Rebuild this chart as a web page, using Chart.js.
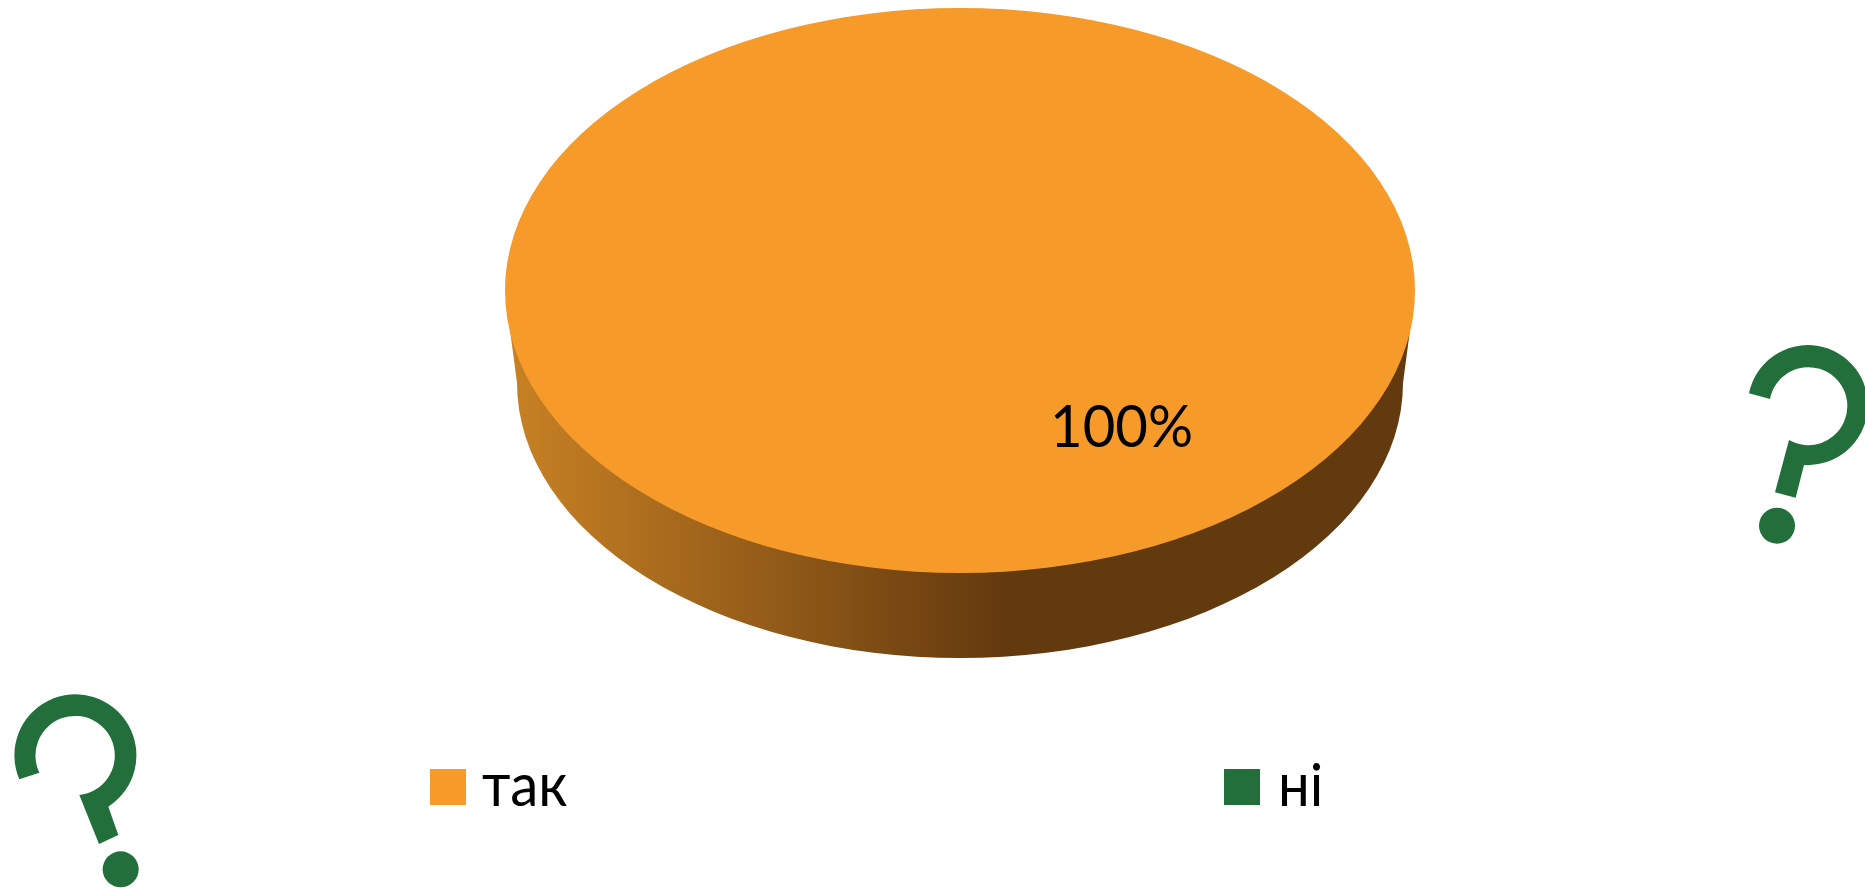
<!DOCTYPE html>
<html>
<head>
<meta charset="utf-8">
<title>так / ні</title>
<script src="https://cdn.jsdelivr.net/npm/chart.js@4/dist/chart.umd.min.js"></script>
<style>
  html, body { margin: 0; padding: 0; background: #fff; overflow: hidden; }
  #stage { position: relative; width: 1865px; height: 890px; }
  #myChart { position: absolute; left: 0; top: 0; }
  .mark { position: absolute; fill: #236f3c; }
</style>
</head>
<body>
<div id="stage">
  <canvas id="myChart" width="1865" height="890"></canvas>
  <!-- question marks -->
  <svg class="mark" style="left:0;top:680px" width="160" height="210" viewBox="0 0 480 630">
    <path d="M58,298 A183,183 0 1 1 325,380 L355,465 L297,492 L238,345 A119,119 0 1 0 118,278 Z"/>
    <circle cx="362" cy="568" r="54"/>
  </svg>
  <svg class="mark" style="left:1730px;top:330px" width="135" height="230" viewBox="0 0 405 690">
    <path d="M57,190 A180,180 0 1 1 222,405 L197,503 L135,487 L177,330 A117,117 0 1 0 120,207 Z"/>
    <circle cx="141" cy="587" r="54"/>
  </svg>
</div>
<script>
'use strict';

const categories = ['так', 'ні'];
const seriesValues = [100, 0];
const sliceColors = ['#f69a2a', '#236f3c'];

// top face and lower rim of the disc
const topFace = { x: 960, y: 290.5, rx: 455, ry: 282.5 };
const lowFace = { x: 960, y: 383, rx: 443, ry: 275 };

// side wall, sits behind the pie
const discPlugin = {
  id: 'disc',
  beforeDatasetsDraw(chart) {
    const ctx = chart.ctx;
    const wall = ctx.createLinearGradient(505, 0, 1005, 0);
    wall.addColorStop(0, '#c98224');
    wall.addColorStop(1, '#63390e');

    ctx.save();
    ctx.fillStyle = wall;
    ctx.beginPath();
    ctx.ellipse(lowFace.x, lowFace.y, lowFace.rx, lowFace.ry, 0, 0, Math.PI);
    ctx.lineTo(510, 330);
    ctx.lineTo(1410, 330);
    ctx.closePath();
    ctx.fill();
    ctx.restore();

    // squash the library's round pie into the top face
    const arc = chart.getDatasetMeta(0).data[0];
    ctx.save();
    ctx.translate(topFace.x, topFace.y);
    ctx.scale(topFace.rx / arc.outerRadius, topFace.ry / arc.outerRadius);
    ctx.translate(-arc.x, -arc.y);
  },
  afterDatasetsDraw(chart) {
    chart.ctx.restore();
  }
};

const drawText = (ctx, text, x, y, size, stretch) => {
  ctx.save();
  ctx.translate(x, y);
  ctx.scale(stretch, 1);
  ctx.font = size + 'px Lato, "Open Sans"';
  ctx.fillStyle = '#000';
  ctx.textAlign = 'left';
  ctx.textBaseline = 'alphabetic';
  ctx.fillText(text, 0, 0);
  ctx.restore();
};

// percent label and legend row
const labelPlugin = {
  id: 'labels',
  afterDraw(chart) {
    const ctx = chart.ctx;
    const total = seriesValues.reduce((a, b) => a + b, 0);
    drawText(ctx, Math.round(seriesValues[0] / total * 100) + '%', 1050, 447, 58, 0.97);

    const swatchX = [430, 1224];
    const textX = [482, 1278];
    categories.forEach((name, i) => {
      ctx.fillStyle = sliceColors[i];
      ctx.fillRect(swatchX[i], 769, 36, 36);
      drawText(ctx, name, textX[i], 806, 60, 0.94);
    });
  }
};

new Chart(document.getElementById('myChart'), {
  type: 'pie',
  data: {
    labels: categories,
    datasets: [{
      data: seriesValues,
      backgroundColor: sliceColors,
      borderWidth: 0
    }]
  },
  options: {
    responsive: false,
    animation: false,
    plugins: {
      legend: { display: false },
      tooltip: { enabled: false }
    }
  },
  plugins: [discPlugin, labelPlugin]
});
</script>
</body>
</html>
